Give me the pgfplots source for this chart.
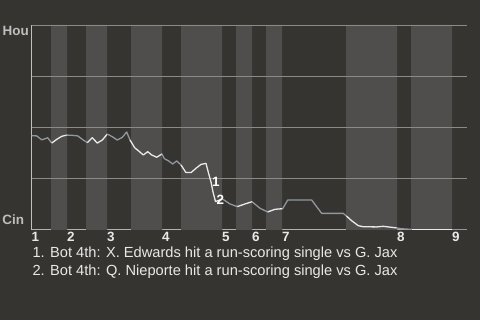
\documentclass[border=0pt]{standalone}
\usepackage{pgfplots}
\pgfplotsset{compat=1.18}
\usepackage{fontspec}
\setmainfont{Liberation Sans}

\definecolor{bgcol}{RGB}{54,52,49}
\definecolor{bandcol}{RGB}{79,78,76}
\definecolor{gridcol}{RGB}{138,138,136}
\definecolor{axiscol}{RGB}{192,192,192}
\definecolor{topline}{RGB}{143,152,158}
\definecolor{botline}{RGB}{234,234,234}
\definecolor{txtcol}{RGB}{232,232,232}
\definecolor{teamcol}{RGB}{190,190,190}

\begin{document}
\begin{tikzpicture}
\fill[bgcol] (0,0) rectangle (480bp,320bp);
\useasboundingbox (0,0) rectangle (480bp,320bp);
\begin{axis}[
  scale only axis,
  width=435.5bp, height=205bp,
  at={(31.5bp,90bp)}, anchor=south west,
  xmin=31.5, xmax=467, ymin=0, ymax=100,
  axis x line*=bottom, axis y line*=left,
  axis line style={draw=axiscol, line width=1bp, -},
  ytick=\empty,
  xtick={31.5,67,107,162,222,252,282,397,452},
  xticklabels={1,2,3,4,5,6,7,8,9},
  major tick length=0pt,
  xticklabel style={font=\fontsize{13.5}{13.5}\selectfont\bfseries, text=txtcol,
    anchor=north west, inner sep=0pt, yshift=-1.7bp},
  every axis plot/.append style={line width=1.3bp, line join=round},
]
% shaded bands for the bottom half of each inning
\addplot[const plot, fill=bandcol, draw=none]
  coordinates {(31.5,0)(51,100)(67,0)(86,100)(107,0)(131,100)(162,0)(181,100)
  (222,0)(236,100)(252,0)(266,100)(282,0)(346,100)(397,0)(411,100)(452,0)(467,0)} \closedcycle;

% horizontal guides at 25, 50, 75 and 100
\addplot[gridcol, line width=0.8bp] coordinates {(31.5,25)(467,25)};
\addplot[gridcol, line width=0.8bp] coordinates {(31.5,50)(467,50)};
\addplot[gridcol, line width=0.8bp] coordinates {(31.5,75)(467,75)};
\addplot[gridcol, line width=0.8bp] coordinates {(31.5,100)(467,100)};

% win probability (Hou %), one segment per half-inning
\addplot[topline] coordinates {(31.5,46.0)(36.7,45.9)(41.7,44.0)(45,44.5)(47.7,45.0)(51.7,42.4)};
\addplot[botline] coordinates {(51.7,42.4)(56.7,44.2)(61.7,45.7)(66.7,46.3)};
\addplot[topline] coordinates {(66.7,46.3)(71.7,46.2)(77.7,45.9)(83.3,43.9)(87.3,42.6)};
\addplot[botline] coordinates {(87.3,42.6)(92.3,45.0)(97.3,42.4)(102.3,43.9)(107.3,46.8)};
\addplot[topline] coordinates {(107.3,46.8)(112.3,45.5)(117.3,43.9)(122.3,45.2)(126.7,47.8)(130,43.9)};
\addplot[botline] coordinates {(130,43.9)(134.7,40.1)(138.3,38.7)(143.3,36.6)(147.7,38.2)(151.7,36.6)(156.7,35.5)(162,37.1)};
\addplot[topline] coordinates {(162,37.1)(164.3,34.8)(168.3,33.8)(172.7,32.2)(176.7,33.7)(181,31.7)};
\addplot[botline] coordinates {(181,31.7)(186,28.0)(191,28.0)(196.7,30.4)(201,32.0)(206,32.5)(208.5,27.8)(211,23.4)(213,18.5)(215.5,13.9)(222.5,15.1)};
\addplot[topline] coordinates {(222.5,15.1)(230,12.7)(237.3,11.4)};
\addplot[botline] coordinates {(237.3,11.4)(245,12.7)(252,13.8)};
\addplot[topline] coordinates {(252,13.8)(260,10.6)(267.7,8.8)};
\addplot[botline] coordinates {(267.7,8.8)(275,10.1)(282.7,10.4)};
\addplot[topline] coordinates {(282.7,10.4)(287.7,14.6)(311.7,14.6)(321.7,8.1)(343.3,8.1)(346.5,6.8)};
\addplot[botline] coordinates {(346.5,6.8)(351.7,4.5)(358.3,2.1)(363.3,1.6)(376.7,1.5)(383.3,1.8)(396.7,1.0)};
\addplot[topline] coordinates {(396.7,1.0)(401.7,0.6)(411.7,0.3)};
\addplot[botline] coordinates {(411.7,0.3)(452,0.3)};
\addplot[topline] coordinates {(452,0.3)(467,0.3)};

% key plays
\node[anchor=west, inner sep=0pt, xshift=0.8bp, text=white,
  font=\fontsize{13.5}{13.5}\selectfont\bfseries] at (axis cs:211,23.4) {1};
\node[anchor=west, inner sep=0pt, xshift=0.8bp, yshift=1.5bp, text=white,
  font=\fontsize{13.5}{13.5}\selectfont\bfseries] at (axis cs:215.5,13.9) {2};
\end{axis}

% team labels
\node[anchor=north east, inner sep=0pt, text=teamcol,
  font=\fontsize{13.5}{13.5}\selectfont\bfseries] at (29bp,294bp) {Hou};
\node[anchor=base east, inner sep=0pt, text=teamcol,
  font=\fontsize{13.5}{13.5}\selectfont\bfseries] at (24.3bp,95bp) {Cin};

% play descriptions
\node[anchor=base west, inner sep=0pt, text=txtcol,
  font=\fontsize{14.7}{14.7}\selectfont] at (32.3bp,62.3bp)
  {1. Bot 4th: X. Edwards hit a run-scoring single vs G. Jax};
\node[anchor=base west, inner sep=0pt, text=txtcol,
  font=\fontsize{14.7}{14.7}\selectfont] at (32.3bp,44.3bp)
  {2. Bot 4th: Q. Nieporte hit a run-scoring single vs G. Jax};
\end{tikzpicture}
\end{document}
